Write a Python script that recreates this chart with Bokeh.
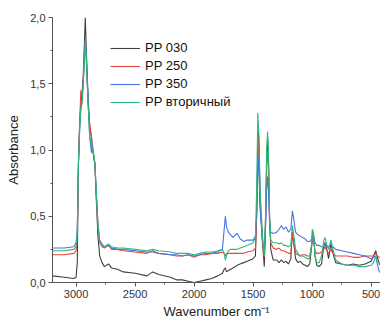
from bokeh.plotting import figure
from bokeh.models import Range1d, FixedTicker, Legend, LegendItem
from bokeh.embed import file_html
from bokeh.resources import INLINE

wavenumber = [3200, 3100, 3020, 3000, 2990, 2980, 2970, 2960, 2950, 2940,
              2930, 2922, 2915, 2905, 2895, 2885, 2870, 2860, 2850, 2840,
              2830, 2815, 2800, 2780, 2760, 2725, 2700, 2650, 2600, 2500,
              2400, 2350, 2300, 2200, 2150, 2100, 2050, 2000, 1950, 1900,
              1850, 1800, 1760, 1745, 1735, 1725, 1710, 1690, 1670, 1650,
              1634, 1610, 1580, 1550, 1500, 1480, 1470, 1460, 1456, 1450,
              1440, 1420, 1405, 1395, 1385, 1377, 1370, 1360, 1350, 1330,
              1300, 1280, 1260, 1240, 1220, 1200, 1180, 1167, 1155, 1140,
              1120, 1100, 1080, 1060, 1040, 1020, 1000, 997, 985, 975,
              960, 940, 920, 900, 890, 875, 860, 840, 830, 810,
              800, 750, 700, 650, 600, 550, 500, 480, 460, 450,
              430, 400]

pp030 = [0.05, 0.04, 0.03, 0.04, 0.15, 0.90, 1.20, 1.35, 1.42, 1.55,
         1.80, 2.00, 1.80, 1.55, 1.35, 1.18, 1.10, 1.00, 0.95, 0.88,
         0.65, 0.35, 0.20, 0.15, 0.12, 0.14, 0.11, 0.10, 0.08, 0.07,
         0.05, 0.08, 0.06, 0.04, 0.02, 0.02, 0.01, 0.00, 0.01, 0.02,
         0.03, 0.05, 0.07, 0.10, 0.11, 0.08, 0.09, 0.10, 0.11, 0.12,
         0.13, 0.14, 0.15, 0.16, 0.18, 0.20, 0.50, 1.00, 1.15, 1.05,
         0.60, 0.30, 0.12, 0.40, 0.90, 1.10, 0.95, 0.50, 0.25, 0.17,
         0.17, 0.15, 0.17, 0.15, 0.16, 0.14, 0.18, 0.38, 0.30, 0.18,
         0.15, 0.16, 0.14, 0.13, 0.12, 0.14, 0.30, 0.40, 0.35, 0.20,
         0.13, 0.12, 0.14, 0.28, 0.30, 0.25, 0.18, 0.30, 0.25, 0.18,
         0.15, 0.14, 0.13, 0.14, 0.13, 0.14, 0.16, 0.20, 0.24, 0.20,
         0.14, 0.12]

pp250 = [0.21, 0.21, 0.22, 0.24, 0.35, 0.90, 1.20, 1.45, 1.40, 1.50,
         1.70, 1.82, 1.70, 1.50, 1.30, 1.20, 1.10, 1.00, 0.95, 0.88,
         0.68, 0.42, 0.30, 0.27, 0.26, 0.28, 0.25, 0.25, 0.24, 0.23,
         0.22, 0.24, 0.22, 0.21, 0.20, 0.20, 0.21, 0.19, 0.21, 0.21,
         0.22, 0.22, 0.23, 0.22, 0.20, 0.22, 0.22, 0.22, 0.22, 0.22,
         0.22, 0.22, 0.22, 0.23, 0.24, 0.26, 0.50, 0.95, 1.10, 1.00,
         0.60, 0.30, 0.19, 0.45, 0.85, 1.00, 0.90, 0.45, 0.30, 0.26,
         0.25, 0.26, 0.24, 0.24, 0.23, 0.22, 0.22, 0.38, 0.30, 0.22,
         0.21, 0.20, 0.21, 0.21, 0.20, 0.20, 0.30, 0.35, 0.30, 0.24,
         0.22, 0.22, 0.23, 0.25, 0.27, 0.24, 0.22, 0.25, 0.23, 0.21,
         0.20, 0.20, 0.20, 0.19, 0.19, 0.20, 0.20, 0.20, 0.22, 0.20,
         0.19, 0.18]

pp350 = [0.26, 0.26, 0.27, 0.30, 0.40, 0.90, 1.15, 1.30, 1.36, 1.50,
         1.70, 1.84, 1.75, 1.50, 1.30, 1.10, 0.98, 1.04, 0.95, 0.90,
         0.70, 0.45, 0.32, 0.29, 0.27, 0.28, 0.26, 0.25, 0.25, 0.24,
         0.23, 0.23, 0.22, 0.21, 0.21, 0.20, 0.21, 0.20, 0.21, 0.22,
         0.22, 0.23, 0.25, 0.40, 0.50, 0.42, 0.38, 0.36, 0.34, 0.36,
         0.37, 0.33, 0.31, 0.32, 0.32, 0.35, 0.50, 0.80, 0.95, 0.85,
         0.55, 0.32, 0.22, 0.40, 0.70, 0.80, 0.70, 0.45, 0.38, 0.37,
         0.38, 0.40, 0.43, 0.40, 0.42, 0.38, 0.40, 0.54, 0.48, 0.38,
         0.36, 0.35, 0.34, 0.33, 0.31, 0.31, 0.33, 0.36, 0.33, 0.30,
         0.28, 0.28, 0.27, 0.27, 0.30, 0.28, 0.27, 0.29, 0.27, 0.26,
         0.25, 0.24, 0.23, 0.22, 0.21, 0.20, 0.18, 0.19, 0.20, 0.15,
         0.08, 0.06]

pp_secondary = [0.24, 0.24, 0.25, 0.27, 0.38, 0.90, 1.15, 1.32, 1.35, 1.48,
                1.68, 1.82, 1.72, 1.50, 1.30, 1.10, 1.05, 1.00, 0.97, 0.90,
                0.70, 0.44, 0.30, 0.28, 0.27, 0.29, 0.27, 0.26, 0.26, 0.25,
                0.24, 0.25, 0.24, 0.23, 0.22, 0.22, 0.22, 0.21, 0.22, 0.23,
                0.23, 0.24, 0.25, 0.22, 0.17, 0.20, 0.24, 0.25, 0.25, 0.25,
                0.25, 0.26, 0.27, 0.28, 0.30, 0.34, 0.70, 1.28, 1.20, 1.10,
                0.70, 0.35, 0.20, 0.50, 1.00, 1.14, 1.00, 0.50, 0.32, 0.30,
                0.30, 0.29, 0.30, 0.28, 0.28, 0.27, 0.28, 0.43, 0.36, 0.25,
                0.22, 0.20, 0.20, 0.19, 0.18, 0.18, 0.32, 0.40, 0.34, 0.20,
                0.15, 0.15, 0.20, 0.32, 0.34, 0.28, 0.25, 0.32, 0.28, 0.20,
                0.17, 0.14, 0.13, 0.13, 0.12, 0.12, 0.13, 0.15, 0.20, 0.16,
                0.15, 0.14]

series_names = ["PP 030", "PP 250", "PP 350", "PP вторичный"]
series_colors = ["#404040", "#e8453c", "#4a72e0", "#2fb87a"]

x_ticks = [3000, 2500, 2000, 1500, 1000, 500]
x_minor = [2750, 2250, 1750, 1250, 750]
y_ticks = [0.0, 0.5, 1.0, 1.5, 2.0]
y_minor = [0.25, 0.75, 1.25, 1.75]
y_tick_labels = ["0,0", "0,5", "1,0", "1,5", "2,0"]

FONT = "Liberation Sans"
TXT = "#333333"
AX = "#555555"

p = figure(width=380, height=321, output_backend="svg", toolbar_location=None,
           x_range=Range1d(3200, 420), y_range=Range1d(0, 2.0),
           min_border_left=52, min_border_top=17, min_border_bottom=36,
           min_border_right=0)
p.outline_line_color = None
p.grid.visible = False
p.background_fill_color = "white"
p.border_fill_color = "white"

renderers = []
for ys, c in zip([pp030, pp250, pp350, pp_secondary], series_colors):
    r = p.line(wavenumber, ys, line_color=c, line_width=1.1)
    renderers.append(r)

p.xaxis.ticker = FixedTicker(ticks=x_ticks, minor_ticks=x_minor)
p.yaxis.ticker = FixedTicker(ticks=y_ticks, minor_ticks=y_minor)
p.yaxis.major_label_overrides = {t: l for t, l in zip(y_ticks, y_tick_labels)}

for ax in (p.xaxis[0], p.yaxis[0]):
    ax.axis_line_color = AX
    ax.major_tick_line_color = AX
    ax.minor_tick_line_color = AX
    ax.major_tick_out = 4
    ax.major_tick_in = 0
    ax.minor_tick_out = 2
    ax.minor_tick_in = 0
    ax.major_label_text_font = FONT
    ax.major_label_text_font_size = "11px"
    ax.major_label_text_color = TXT
    ax.axis_label_text_font = FONT
    ax.axis_label_text_font_size = "13px"
    ax.axis_label_text_font_style = "normal"
    ax.axis_label_text_color = "#222222"
    ax.major_label_standoff = 3

p.xaxis.axis_label = "Wavenumber cm⁻¹"
p.xaxis.axis_label_standoff = 3
p.yaxis.axis_label = "Absorbance"
p.yaxis.axis_label_standoff = 6

legend = Legend(items=[LegendItem(label=n, renderers=[r]) for n, r in zip(series_names, renderers)],
                location=(58, 173), border_line_color=None, background_fill_alpha=0,
                padding=0, margin=0, spacing=3, glyph_width=30, glyph_height=14,
                label_height=14, label_standoff=5,
                label_text_font=FONT, label_text_font_size="13px", label_text_color="#111111")
p.add_layout(legend)

open("out.html", "w").write(file_html(p, INLINE))
